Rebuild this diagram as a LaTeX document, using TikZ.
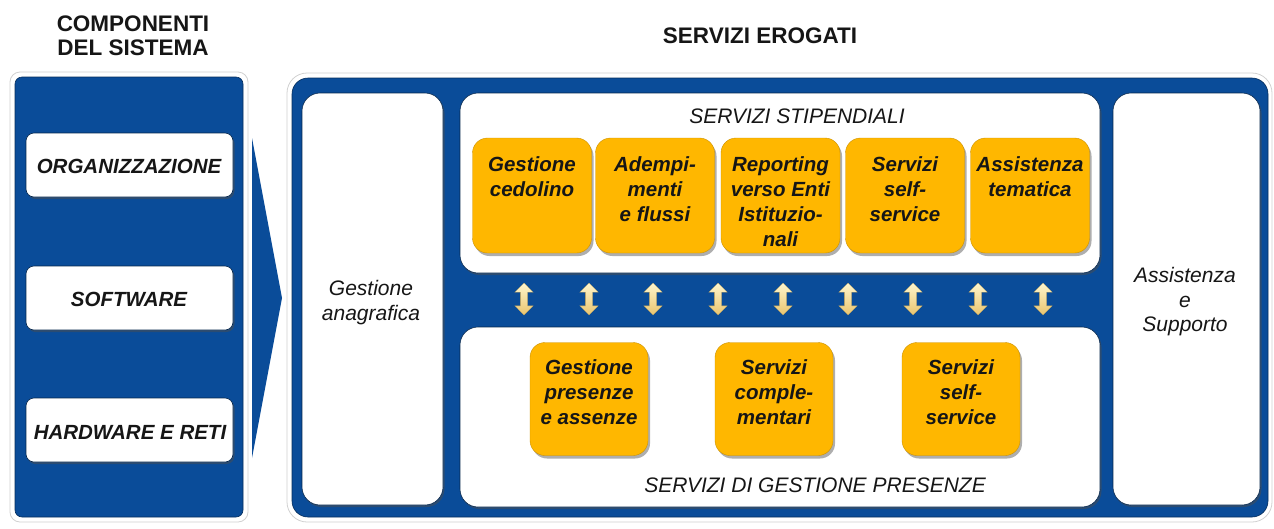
\documentclass[tikz,border=0pt]{standalone}
\usepackage{fontspec}
\setmainfont{Liberation Sans}
\usetikzlibrary{shapes.arrows,shadows}
\definecolor{panelblue}{RGB}{10,76,153}
\definecolor{gold}{RGB}{255,183,0}
\definecolor{ink}{RGB}{22,22,22}
\definecolor{creamtop}{RGB}{255,246,205}
\definecolor{creambot}{RGB}{233,196,110}
\begin{document}
\begin{tikzpicture}[x=1pt,y=-1pt,
  halo/.style={fill=white, draw=black!18, line width=0.8pt},
  bluepanel/.style={fill=panelblue, draw=panelblue!60!black, line width=0.6pt},
  whitebox/.style={fill=white, draw=panelblue!50!black, line width=0.6pt, rounded corners=18pt,
     drop shadow={shadow xshift=1.5pt, shadow yshift=-2pt, opacity=0.5, fill=black!70}},
  compbox/.style={fill=white, draw=panelblue!50!black, line width=0.6pt, rounded corners=8pt,
     minimum width=207pt, minimum height=64pt,
     drop shadow={shadow xshift=1.5pt, shadow yshift=-2pt, opacity=0.5, fill=black!70}},
  goldbox/.style={fill=gold, draw=gold!80!black, line width=0.4pt, rounded corners=15pt,
     minimum width=119pt, minimum height=115pt,
     drop shadow={shadow xshift=2pt, shadow yshift=-3pt, opacity=0.45, fill=black!70}},
  goldboxlow/.style={goldbox, minimum width=118pt, minimum height=113pt},
  goldtxt/.style={anchor=north, inner sep=0pt, align=center, text=ink,
     font=\fontsize{20.5}{25}\selectfont\bfseries\itshape},
  lbl/.style={inner sep=0pt, align=center, text=ink,
     font=\fontsize{21}{24.5}\selectfont\itshape},
  complbl/.style={inner sep=0pt, anchor=base, text=ink,
     font=\fontsize{20.5}{24}\selectfont\bfseries\itshape},
  title/.style={inner sep=0pt, align=center, text=ink,
     font=\fontsize{22.5}{24}\selectfont\bfseries},
  dbl/.style={double arrow, shape border rotate=90, minimum height=32pt, minimum width=18pt,
     inner sep=3.5pt, double arrow head extend=5.5pt,
     top color=creamtop, bottom color=creambot, draw=creambot!80!black, line width=0.3pt}
]
\useasboundingbox (0,0) rectangle (1274,528);
\fill[white] (0,0) rectangle (1274,528);

% titles
\node[title, anchor=north] (tcomp) at (133,14) {\strut COMPONENTI\\DEL SISTEMA};
\node[title, anchor=base] (tserv) at (760,43) {SERVIZI EROGATI};

% left panel
\node[halo, rounded corners=10pt, minimum width=238pt, minimum height=450pt] (lhalo) at (129,297) {};
\node[bluepanel, rounded corners=7pt, minimum width=228pt, minimum height=440pt] (lpanel) at (129,297) {};
\node[compbox] (org) at (129.5,165) {};
\node[compbox] (sw) at (129.5,298) {};
\node[compbox] (hw) at (129.5,430) {};
\node[complbl] (orgt) at (129,173) {ORGANIZZAZIONE};
\node[complbl] (swt) at (129,306) {SOFTWARE};
\node[complbl] (hwt) at (130,439) {HARDWARE E RETI};

% chevron
\fill[panelblue] (252,138) -- (282,298) -- (252,458) -- cycle;

% right panel
\node[halo, rounded corners=20pt, minimum width=985pt, minimum height=449pt] (rhalo) at (779.5,297.5) {};
\node[bluepanel, rounded corners=16pt, minimum width=976pt, minimum height=439pt] (rpanel) at (780,297.5) {};

\node[whitebox, minimum width=141pt, minimum height=412pt] (anag) at (372.5,299) {};
\node[whitebox, minimum width=640pt, minimum height=180pt] (stip) at (780,183) {};
\node[whitebox, minimum width=640pt, minimum height=180pt] (pres) at (780,417) {};
\node[whitebox, minimum width=147pt, minimum height=412pt] (assi) at (1186.5,299) {};

\node[lbl, anchor=north] (anagt) at (371,278.5) {\strut Gestione\\anagrafica};
\node[lbl, anchor=north] (assit) at (1185,265.5) {\strut Assistenza\\e\\Supporto};
\node[lbl, anchor=base] (stipt) at (797,123) {SERVIZI STIPENDIALI};
\node[lbl, anchor=base] (prest) at (815,492) {SERVIZI DI GESTIONE PRESENZE};

% stipendiali boxes
\node[goldbox] (s1) at (532,195.5) {};
\node[goldbox] (s2) at (655,195.5) {};
\node[goldbox] (s3) at (780.5,195.5) {};
\node[goldbox] (s4) at (905,195.5) {};
\node[goldbox] (s5) at (1030,195.5) {};
\node[goldtxt] (s1t) at (532,153.5) {\strut Gestione\\cedolino};
\node[goldtxt] (s2t) at (655,153.5) {\strut Adempi-\\menti\\e flussi};
\node[goldtxt] (s3t) at (780.5,153.5) {\strut Reporting\\verso Enti\\Istituzio-\\nali};
\node[goldtxt] (s4t) at (905,153.5) {\strut Servizi\\self-\\service};
\node[goldtxt] (s5t) at (1030,153.5) {\strut Assistenza\\tematica};

% presenze boxes
\node[goldboxlow] (p1) at (589,399) {};
\node[goldboxlow] (p2) at (774,399) {};
\node[goldboxlow] (p3) at (961,399) {};
\node[goldtxt] (p1t) at (589,356.5) {\strut Gestione\\presenze\\e assenze};
\node[goldtxt] (p2t) at (774,356.5) {\strut Servizi\\comple-\\mentari};
\node[goldtxt] (p3t) at (961,356.5) {\strut Servizi\\self-\\service};

% double arrows
\foreach \i [count=\k] in {524,589,653,718,783,848,913,978,1043}{
  \node[dbl] (da\k) at (\i,299) {};
}
\end{tikzpicture}
\end{document}
